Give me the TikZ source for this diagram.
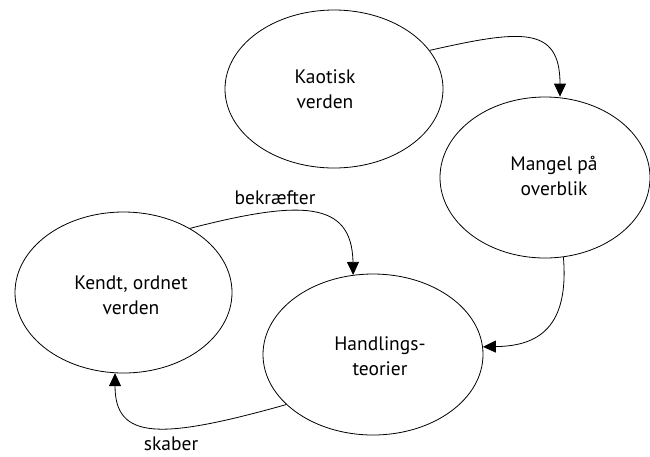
\documentclass[tikz,border=0pt]{standalone}
\usepackage{fontspec}
\setmainfont{PT Sans}
\usetikzlibrary{shapes.geometric,arrows.meta}
\begin{document}
\begin{tikzpicture}[x=1pt,y=-1pt,
  state/.style={ellipse,draw,line width=0.8pt,inner sep=0pt},
  caption/.style={align=center,anchor=base,font=\fontsize{19.5}{25}\selectfont},
  edgelabel/.style={anchor=base,font=\fontsize{19.5}{22}\selectfont},
  flow/.style={line width=0.8pt,-{Triangle[length=13pt,width=12pt]}}]
\useasboundingbox (0,0) rectangle (650,456);

% states
\node[state,minimum width=218pt,minimum height=158pt] (kao) at (334,89) {};
\node[state,minimum width=210pt,minimum height=161pt] (man) at (545,177.5) {};
\node[state,minimum width=217pt,minimum height=161pt] (ken) at (123.5,292.5) {};
\node[state,minimum width=220pt,minimum height=161pt] (han) at (373,354.5) {};

% captions (anchored at the baseline of the last line)
\node[caption] (kaot) at (325,108) {Kaotisk\\verden};
\node[caption] (mant) at (554,195) {Mangel på\\overblik};
\node[caption] (kent) at (131,314) {Kendt, ordnet\\verden};
\node[caption] (hant) at (380,375) {Handlings-\\teorier};

% connectors
\draw[flow] (kao.22) .. controls (520,30) and (560,25) .. (man.north -| 560,0);
\draw[flow] (man.-77) .. controls (570,335) and (530,346) .. (han.4);
\draw[flow] (ken.44) .. controls (300,200) and (352,200) .. (han.104);
\draw[flow] (han.210) .. controls (160,440) and (115,440) .. (ken.264);

% connector labels
\node[edgelabel] (lb1) at (275,204) {bekræfter};
\node[edgelabel] (lb2) at (171,450) {skaber};
\end{tikzpicture}
\end{document}
